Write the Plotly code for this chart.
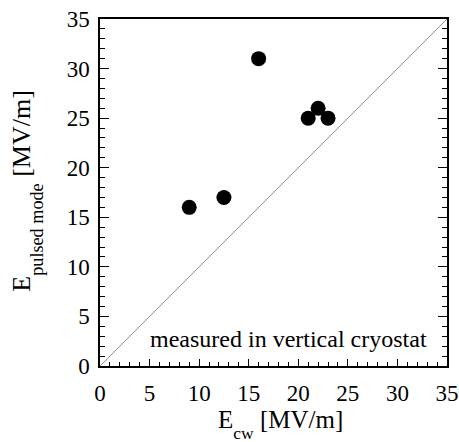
import plotly.graph_objects as go

e_cw = [9.0, 12.5, 16.0, 21.0, 22.0, 23.0]
e_pulsed = [16.0, 17.0, 31.0, 25.0, 26.0, 25.0]
diag = [0, 35]

FONT = "Liberation Serif, Times New Roman, serif"

fig = go.Figure()
fig.add_trace(go.Scatter(x=diag, y=diag, mode="lines",
                         line=dict(color="#909090", width=1), hoverinfo="skip"))
fig.add_trace(go.Scatter(x=e_cw, y=e_pulsed, mode="markers",
                         marker=dict(color="black", size=15)))

axis_common = dict(
    range=[0, 35], dtick=5, tick0=0, ticks="inside", tickwidth=1,
    tickcolor="black", showline=True, linecolor="black", linewidth=1.5,
    showgrid=False, zeroline=False, automargin=False,
    tickfont=dict(family=FONT, size=23, color="black"),
)

fig.update_xaxes(**axis_common, mirror=True, ticklabelstandoff=6, ticklen=7,
                 minor=dict(ticks="inside", dtick=1, ticklen=4, tickwidth=1, tickcolor="black", showgrid=False))
fig.update_yaxes(**axis_common, mirror="ticks", ticklabelstandoff=4, ticklen=9,
                 minor=dict(ticks="inside", dtick=1, ticklen=5, tickwidth=1, tickcolor="black", showgrid=False))

# axis titles
fig.add_annotation(xref="paper", yref="paper", x=0.52, y=0, xanchor="center", yanchor="top", yshift=-38,
                   text='E<sub><span style="baseline-shift:-6px">cw</span></sub> [MV/m]',
                   showarrow=False, font=dict(family=FONT, size=25, color="black"))
fig.add_annotation(xref="paper", yref="paper", x=-0.212, y=0.5065, xanchor="center", yanchor="middle",
                   textangle=-90,
                   text='E<sub><span style="baseline-shift:-7px">pulsed mode</span></sub> [MV/m]',
                   showarrow=False, font=dict(family=FONT, size=26, color="black"))

fig.add_annotation(x=19.0, y=2.7, xref="x", yref="y", text="measured in vertical cryostat",
                   showarrow=False, font=dict(family=FONT, size=24, color="black"))

fig.update_layout(
    template="none",
    width=459, height=442, showlegend=False,
    margin=dict(l=100, r=12, t=19, b=76),
    plot_bgcolor="white", paper_bgcolor="white",
)

fig.write_html("out.html")
